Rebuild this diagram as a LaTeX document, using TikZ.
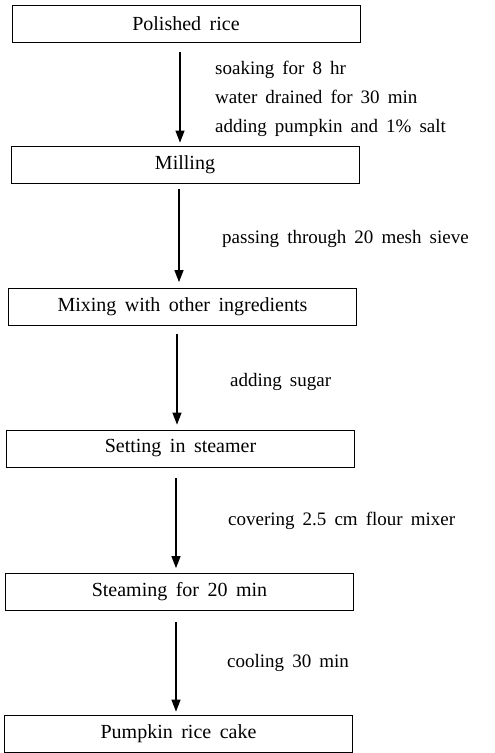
\documentclass[tikz,border=0pt]{standalone}
\usepackage{fontspec}
\setmainfont{Liberation Serif}[WordSpace=1.7]
\usetikzlibrary{arrows.meta,calc}
\begin{document}
\begin{tikzpicture}[x=1pt,y=-1pt,
  stepbox/.style={draw,line width=0.8pt,minimum width=348pt,minimum height=37pt,inner sep=0pt,font=\fontsize{20}{23}\selectfont},
  lbl/.style={anchor=base west,inner sep=0pt,font=\fontsize{19}{22}\selectfont},
  arr/.style={line width=1.3pt,-{Triangle[length=12pt,width=9pt]}}]
\useasboundingbox (0,0) rectangle (495,753);
\node[stepbox] (b1) at (186,23.5) {Polished rice};
\node[stepbox] (b2) at (185,164.5) {Milling};
\node[stepbox] (b3) at (182.5,307) {Mixing with other ingredients};
\node[stepbox] (b4) at (180.5,448.5) {Setting in steamer};
\node[stepbox] (b5) at (179.5,592) {Steaming for 20 min};
\node[stepbox] (b6) at (178.5,733.5) {Pumpkin rice cake};
\coordinate (s1) at ($(b1.south)+(-6,10)$);
\coordinate (s2) at ($(b2.south)+(-6,6)$);
\coordinate (s3) at ($(b3.south)+(-5.5,8)$);
\coordinate (s4) at ($(b4.south)+(-4.5,11)$);
\coordinate (s5) at ($(b5.south)+(-3.5,11)$);
\draw[arr,shorten >=3pt] (s1) -- (s1 |- b2.north);
\draw[arr,shorten >=6pt] (s2) -- (s2 |- b3.north);
\draw[arr,shorten >=5pt] (s3) -- (s3 |- b4.north);
\draw[arr,shorten >=5pt] (s4) -- (s4 |- b5.north);
\draw[arr,shorten >=3pt] (s5) -- (s5 |- b6.north);
\node[lbl] (l1) at (215,74) {soaking for 8 hr};
\node[lbl] (l2) at (215,103) {water drained for 30 min};
\node[lbl] (l3) at (215,132) {adding pumpkin and 1\% salt};
\node[lbl] (l4) at (222,243) {passing through 20 mesh sieve};
\node[lbl] (l5) at (230,386) {adding sugar};
\node[lbl] (l6) at (228,525) {covering 2.5 cm flour mixer};
\node[lbl] (l7) at (227,667) {cooling 30 min};
\end{tikzpicture}
\end{document}
